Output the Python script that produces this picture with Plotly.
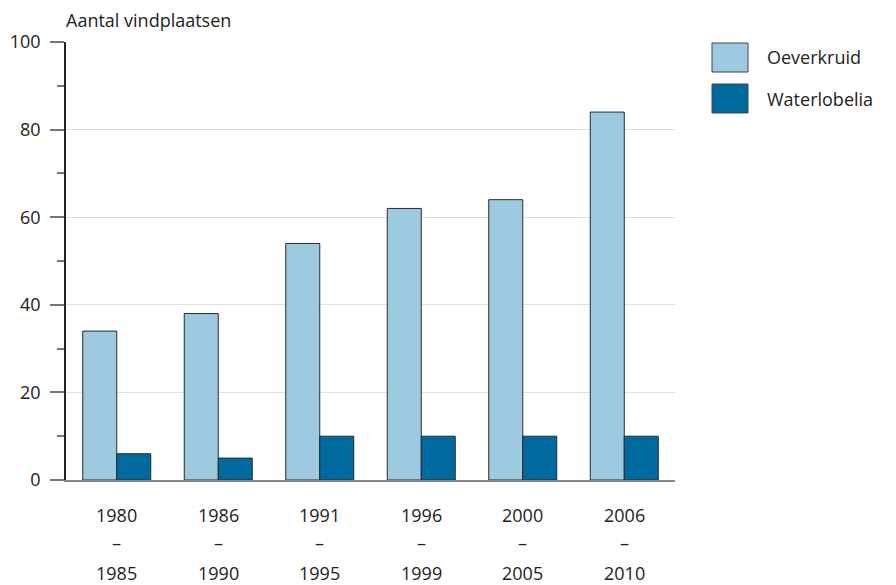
import plotly.graph_objects as go

categories = ["1980–1985", "1986–1990", "1991–1995", "1996–1999", "2000–2005", "2006–2010"]
label_start = ["1980", "1986", "1991", "1996", "2000", "2006"]
label_end = ["1985", "1990", "1995", "1999", "2005", "2010"]
oeverkruid = [34, 38, 54, 62, 64, 84]
waterlobelia = [6, 5, 10, 10, 10, 10]
series_names = ["Oeverkruid", "Waterlobelia"]
colors = ["#9ecae1", "#00699e"]
y_tickvals = [0, 20, 40, 60, 80, 100]

FONT = "Open Sans"
FS = 18
fig = go.Figure()
for name, vals, col in zip(series_names, [oeverkruid, waterlobelia], colors):
    fig.add_trace(go.Bar(x=categories, y=vals, name=name, marker=dict(color=col, line=dict(color="#2a2a2a", width=1)),
                         showlegend=False))

fig.update_layout(
    width=896, height=585,
    margin=dict(l=66, r=221, t=42, b=105, autoexpand=False),
    paper_bgcolor="white", plot_bgcolor="white",
    barmode="group", bargap=0.33, bargroupgap=0,
    font=dict(family=FONT, size=FS, color="#222"),
)
fig.update_yaxes(range=[0, 100], tickvals=y_tickvals, showgrid=True, gridcolor="#e0e0e0", gridwidth=1,
                 ticks="outside", ticklen=14, tickcolor="#777", tickwidth=1.5,
                 showline=True, linecolor="#222", linewidth=1.5, zeroline=False,
                 ticklabelstandoff=6, automargin=False,
                 minor=dict(dtick=10, tick0=0, ticks="outside", ticklen=7, tickcolor="#777", tickwidth=1.5, showgrid=False),
                 tickfont=dict(size=FS, color="#222"))
fig.update_xaxes(range=[-0.5, 5.5], showticklabels=False, ticks="", showline=True, linecolor="#888", linewidth=1.5,
                 automargin=False)

# Multi-line category labels
for cat, a, b in zip(categories, label_start, label_end):
    for txt, ys in [(a, -35), ("–", -63), (b, -93)]:
        fig.add_annotation(x=cat, xref="x", y=0, yref="paper", yshift=ys, text=txt, showarrow=False,
                           font=dict(size=FS, color="#222", family=FONT), xanchor="center", yanchor="middle")

# Axis title
fig.add_annotation(x=0, xref="paper", y=1, yref="paper", text="Aantal vindplaatsen",
                   showarrow=False, xanchor="left", yanchor="middle", yshift=22, xshift=-2,
                   font=dict(size=FS, color="#222", family=FONT))

# Custom legend (large swatches)
for i, (name, col) in enumerate(zip(series_names, colors)):
    y0px = 43 + i * 41
    y_top = 1 - (y0px - 42) / 438
    y_bot = 1 - (y0px + 29 - 42) / 438
    x0 = (712 - 66) / 609
    x1 = (748 - 66) / 609
    fig.add_shape(type="rect", xref="paper", yref="paper", x0=x0, x1=x1, y0=y_bot, y1=y_top,
                  fillcolor=col, line=dict(color="#444", width=1))
    fig.add_annotation(x=(765 - 66) / 609, xref="paper", y=(y_top + y_bot) / 2, yref="paper", text=name,
                       showarrow=False, xanchor="left", yanchor="middle",
                       font=dict(size=FS, color="#222", family=FONT))

fig.write_html("out.html", config={"displayModeBar": False},
               post_script="document.body.style.margin='0';document.body.style.overflow='hidden';")
